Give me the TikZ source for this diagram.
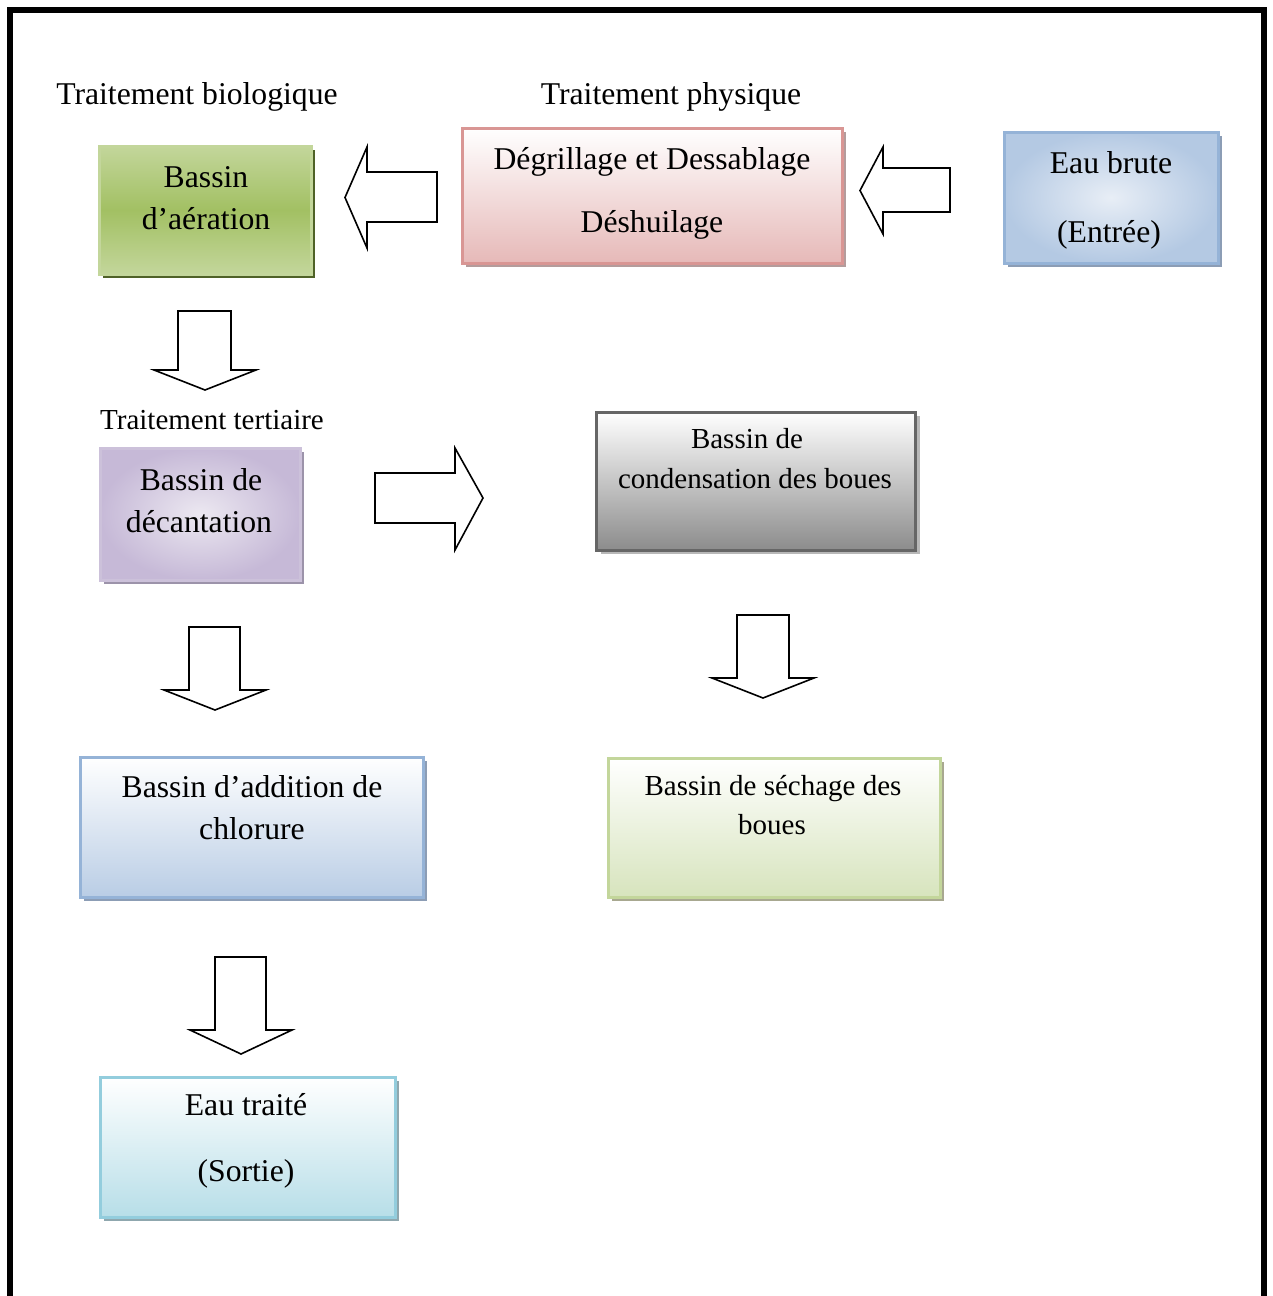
\documentclass[tikz,border=0pt]{standalone}
\usepackage[dvipsnames]{xcolor}
\usepackage{fontspec}
\setmainfont{Liberation Serif}
\usetikzlibrary{shadows}
\definecolor{aerLight}{HTML}{C3D69B}
\definecolor{aerMid}{HTML}{A2C063}
\definecolor{aerShadow}{HTML}{4F6228}
\definecolor{degBottom}{HTML}{E6B9B8}
\definecolor{degLine}{HTML}{D99694}
\definecolor{degShadow}{HTML}{B49C9C}
\definecolor{brutIn}{HTML}{E8EEF6}
\definecolor{brutOut}{HTML}{B4C9E3}
\definecolor{brutLine}{HTML}{95B3D7}
\definecolor{blueShadow}{HTML}{8C9DB5}
\definecolor{decIn}{HTML}{ECE8F1}
\definecolor{decOut}{HTML}{C6B9D7}
\definecolor{decLine}{HTML}{CCC1DA}
\definecolor{decShadow}{HTML}{9C93AA}
\definecolor{conBottom}{HTML}{8C8C8C}
\definecolor{conLine}{HTML}{666666}
\definecolor{conShadow}{HTML}{B8B8B8}
\definecolor{chlBottom}{HTML}{B9CDE5}
\definecolor{secBottom}{HTML}{D7E4BD}
\definecolor{secLine}{HTML}{C3D69B}
\definecolor{secShadow}{HTML}{A8A890}
\definecolor{sorBottom}{HTML}{B7DEE8}
\definecolor{sorLine}{HTML}{93CDDD}
\definecolor{sorShadow}{HTML}{8FA7AE}

\begin{document}
\begin{tikzpicture}[x=1pt,y=-1pt,
  bassin/.style={line width=3pt, inner sep=0pt},
  shade/.style={drop shadow={shadow xshift=4pt, shadow yshift=-4pt, fill=#1, opacity=1}},
  lbl/.style={anchor=base, inner sep=0pt, font=\fontsize{31.7}{38}\selectfont},
  lblsmall/.style={anchor=base, inner sep=0pt, font=\fontsize{29}{35}\selectfont},
  arr/.style={draw, line width=1.6pt, fill=white, line join=miter}]
\useasboundingbox (0,0) rectangle (1272,1296);
% frame
\draw[line width=6pt] (10,1296) -- (10,10) -- (1264,10) -- (1264,1296);
%
\node[lbl] (biolbl) at (197,104) {Traitement biologique};
\node[lbl] (phylbl) at (671,104) {Traitement physique};
\node[lblsmall] (terlbl) at (212,429) {Traitement tertiaire};
%
\node[bassin, draw=aerLight, top color=aerLight, bottom color=aerLight, middle color=aerMid,
  shade=aerShadow, minimum width=212pt, minimum height=128pt] (aeration) at (205,210) {};
\node[lbl] at (206,187) {Bassin};
\node[lbl] at (206,229) {d’aération};
%
\node[bassin, draw=degLine, top color=white, bottom color=degBottom,
  shade=degShadow, minimum width=380pt, minimum height=135pt] (degrillage) at (652,195.5) {};
\node[lbl] at (652,169) {Dégrillage et Dessablage};
\node[lbl] at (652,232) {Déshuilage};
%
\node[bassin, draw=brutLine, inner color=brutIn, outer color=brutOut,
  shade=blueShadow, minimum width=214pt, minimum height=131pt] (brute) at (1111,197.5) {};
\node[lbl] at (1111,173) {Eau brute};
\node[lbl] at (1109,242) {(Entrée)};
%
\node[bassin, draw=decLine, inner color=decIn, outer color=decOut,
  shade=decShadow, minimum width=200pt, minimum height=132pt] (decantation) at (200,514) {};
\node[lbl] at (201,490) {Bassin de};
\node[lbl] at (199,532) {décantation};
%
\node[bassin, draw=conLine, top color=white, bottom color=conBottom,
  shade=conShadow, minimum width=319pt, minimum height=138pt] (condensation) at (756,481) {};
\node[lblsmall] at (747,448) {Bassin de};
\node[lblsmall] at (755,488) {condensation des boues};
%
\node[bassin, draw=brutLine, top color=white, bottom color=chlBottom,
  shade=blueShadow, minimum width=343pt, minimum height=140pt] (chlorure) at (251.5,827) {};
\node[lbl] at (252,797) {Bassin d’addition de};
\node[lbl] at (252,839) {chlorure};
%
\node[bassin, draw=secLine, top color=white, bottom color=secBottom,
  shade=secShadow, minimum width=332pt, minimum height=139pt] (sechage) at (774,827.5) {};
\node[lblsmall] at (773,795) {Bassin de séchage des};
\node[lblsmall] at (772,834) {boues};
%
\node[bassin, draw=sorLine, top color=white, bottom color=sorBottom,
  shade=sorShadow, minimum width=295pt, minimum height=140pt] (sortie) at (247.5,1147) {};
\node[lbl] at (246,1115) {Eau traité};
\node[lbl] at (246,1181) {(Sortie)};
%
% block arrows
\draw[arr] (437,172) -- (367,172) -- (367,147) -- (345,197.5) -- (367,248) -- (367,222) -- (437,222) -- cycle;
\draw[arr] (950,168) -- (883,168) -- (883,147) -- (860,190.5) -- (883,234) -- (883,212) -- (950,212) -- cycle;
\draw[arr] (178,311) -- (178,370) -- (154,370) -- (205,390) -- (256,370) -- (231,370) -- (231,311) -- cycle;
\draw[arr] (375,473) -- (455,473) -- (455,448) -- (483,498) -- (455,550) -- (455,523) -- (375,523) -- cycle;
\draw[arr] (189,627) -- (189,690) -- (164,690) -- (215,710) -- (266,690) -- (240,690) -- (240,627) -- cycle;
\draw[arr] (737,615) -- (737,678) -- (712,678) -- (763,698) -- (814,678) -- (789,678) -- (789,615) -- cycle;
\draw[arr] (215,957) -- (215,1030) -- (190,1030) -- (241,1054) -- (292,1030) -- (266,1030) -- (266,957) -- cycle;
\end{tikzpicture}
\end{document}
